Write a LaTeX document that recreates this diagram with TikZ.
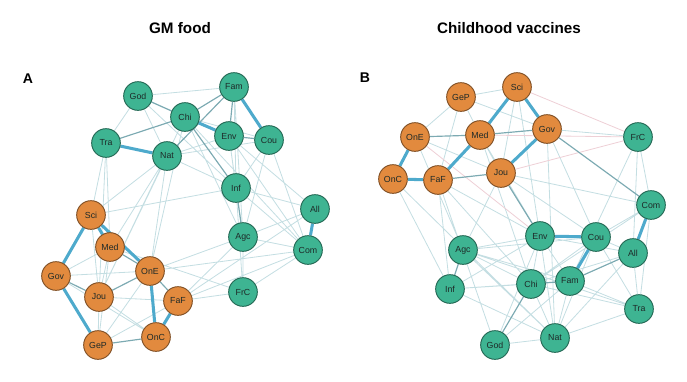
\documentclass[tikz,border=0pt]{standalone}
\usepackage{fontspec}
\setmainfont{Liberation Sans}
\usetikzlibrary{backgrounds}
\definecolor{tealfill}{RGB}{62,180,146}
\definecolor{tealline}{RGB}{36,104,84}
\definecolor{orgfill}{RGB}{226,138,62}
\definecolor{orgline}{RGB}{128,80,38}
\definecolor{wkcol}{RGB}{196,222,226}
\definecolor{mdcol}{RGB}{124,170,178}
\definecolor{stcol}{RGB}{78,170,204}
\definecolor{ngcol}{RGB}{238,208,214}
\definecolor{labcol}{RGB}{30,42,40}

\begin{document}
\begin{tikzpicture}[x=0.03cm, y=-0.03cm,
  vg/.style={circle, draw=tealline, fill=tealfill, line width=0.8pt, minimum size=0.86cm, inner sep=0pt, text=labcol, font=\fontsize{7.5}{8}\selectfont},
  vo/.style={vg, draw=orgline, fill=orgfill},
  wk/.style={draw=wkcol, line width=0.7pt},
  ng/.style={draw=ngcol, line width=0.7pt},
  md/.style={draw=mdcol, line width=1pt},
  st/.style={draw=stcol, line width=2.6pt},
  ttl/.style={font=\bfseries\fontsize{13}{15}\selectfont},
  pl/.style={font=\bfseries\fontsize{12}{14}\selectfont}
]
\useasboundingbox (0,0) rectangle (687,381);
% titles and panel letters
\node[ttl] (tA) at (180,28) {GM food};
\node[ttl] (tB) at (509,28) {Childhood vaccines};
\node[pl] (lA) at (28,79) {A};
\node[pl] (lB) at (365,78) {B};
% panel A nodes
\node[vg] (aGod) at (138,96)  {God};
\node[vg] (aFam) at (234,87)  {Fam};
\node[vg] (aChi) at (185,117) {Chi};
\node[vg] (aEnv) at (229,136) {Env};
\node[vg] (aCou) at (269,140) {Cou};
\node[vg] (aTra) at (106,143) {Tra};
\node[vg] (aNat) at (167,156) {Nat};
\node[vg] (aInf) at (236,188) {Inf};
\node[vg] (aAll) at (315,209) {All};
\node[vg] (aAgc) at (243,237) {Agc};
\node[vg] (aCom) at (308,250) {Com};
\node[vg] (aFrC) at (243,292) {FrC};
\node[vo] (aSci) at (91,215)  {Sci};
\node[vo] (aMed) at (110,247) {Med};
\node[vo] (aGov) at (56,276)  {Gov};
\node[vo] (aOnE) at (150,271) {OnE};
\node[vo] (aJou) at (99,297)  {Jou};
\node[vo] (aFaF) at (178,301) {FaF};
\node[vo] (aGeP) at (98,345)  {GeP};
\node[vo] (aOnC) at (156,337) {OnC};
% panel B nodes
\node[vo] (bSci) at (517,87)  {Sci};
\node[vo] (bGeP) at (461,97)  {GeP};
\node[vo] (bOnE) at (415,137) {OnE};
\node[vo] (bMed) at (480,135) {Med};
\node[vo] (bGov) at (547,129) {Gov};
\node[vo] (bOnC) at (393,179) {OnC};
\node[vo] (bFaF) at (438,180) {FaF};
\node[vo] (bJou) at (501,173) {Jou};
\node[vg] (bFrC) at (638,137) {FrC};
\node[vg] (bCom) at (651,205) {Com};
\node[vg] (bEnv) at (540,236) {Env};
\node[vg] (bCou) at (596,237) {Cou};
\node[vg] (bAgc) at (463,250) {Agc};
\node[vg] (bAll) at (633,253) {All};
\node[vg] (bChi) at (531,284) {Chi};
\node[vg] (bFam) at (570,281) {Fam};
\node[vg] (bInf) at (450,289) {Inf};
\node[vg] (bTra) at (639,309) {Tra};
\node[vg] (bNat) at (555,338) {Nat};
\node[vg] (bGod) at (495,345) {God};
\begin{pgfonlayer}{background}
% panel A, weak edges
\draw[wk] (aGod) -- (aFam) (aGod) -- (aTra) (aGod) -- (aNat) (aGod) -- (aEnv) (aGod) -- (aInf)
  (aTra) -- (aSci) (aTra) -- (aMed) (aTra) -- (aJou) (aNat) -- (aSci) (aNat) -- (aMed)
  (aNat) -- (aJou) (aNat) -- (aOnE) (aNat) -- (aInf) (aNat) -- (aEnv) (aNat) -- (aCou)
  (aChi) -- (aAgc) (aChi) -- (aCou) (aChi) -- (aCom) (aEnv) -- (aInf) (aEnv) -- (aAgc)
  (aEnv) -- (aAll) (aEnv) -- (aCom) (aFam) -- (aInf) (aFam) -- (aAgc) (aCou) -- (aAgc)
  (aCou) -- (aCom) (aCou) -- (aInf) (aInf) -- (aAll) (aInf) -- (aCom) (aInf) -- (aFrC)
  (aAgc) -- (aCom) (aAgc) -- (aAll) (aAgc) -- (aFrC) (aAgc) -- (aFaF) (aAgc) -- (aOnE)
  (aFrC) -- (aCom) (aFrC) -- (aFaF) (aAll) -- (aFaF) (aCom) -- (aFaF) (aCom) -- (aOnE)
  (aMed) -- (aFrC) (aSci) -- (aInf) (aGov) -- (aMed) (aGov) -- (aOnE) (aSci) -- (aJou)
  (aJou) -- (aFaF) (aJou) -- (aOnC) (aGeP) -- (aJou) (aGeP) -- (aOnE) (aGeP) -- (aFaF)
  (aMed) -- (aJou) (aMed) -- (aGeP) (aGov) -- (aOnC) (aChi) -- (aOnE) (aChi) -- (aJou);
% panel A, medium edges
\draw[md] (aChi) -- (aFam) (aChi) -- (aTra) (aNat) -- (aFam) (aGod) -- (aChi)
  (aFam) -- (aEnv) (aEnv) -- (aCou) (aChi) -- (aInf) (aInf) -- (aAgc)
  (aGov) -- (aJou) (aJou) -- (aOnE) (aGeP) -- (aOnC) (aOnE) -- (aFaF) (aMed) -- (aOnE);
% panel A, strong edges
\draw[st] (aFam) -- (aCou) (aChi) -- (aEnv) (aTra) -- (aNat) (aAll) -- (aCom)
  (aSci) -- (aGov) (aSci) -- (aMed) (aSci) -- (aOnE) (aGov) -- (aGeP)
  (aOnE) -- (aOnC) (aFaF) -- (aOnC);
% panel B, weak edges
\draw[wk] (bOnE) -- (bGeP) (bGeP) -- (bSci) (bGeP) -- (bGov) (bGeP) -- (bMed) (bGeP) -- (bFaF)
  (bOnE) -- (bJou) (bOnE) -- (bAgc) (bOnC) -- (bInf) (bFaF) -- (bInf) (bFaF) -- (bEnv)
  (bFaF) -- (bChi) (bMed) -- (bJou) (bMed) -- (bChi) (bSci) -- (bJou) (bSci) -- (bEnv)
  (bGov) -- (bFrC) (bGov) -- (bCou) (bJou) -- (bCom) (bJou) -- (bCou) (bJou) -- (bAgc)
  (bFrC) -- (bAll) (bFrC) -- (bCom) (bFrC) -- (bFam) (bAgc) -- (bEnv) (bAgc) -- (bCou)
  (bAgc) -- (bChi) (bAgc) -- (bFam) (bAgc) -- (bTra) (bAgc) -- (bNat) (bInf) -- (bChi)
  (bInf) -- (bFam) (bInf) -- (bEnv) (bInf) -- (bNat) (bEnv) -- (bChi) (bEnv) -- (bFam)
  (bEnv) -- (bAll) (bEnv) -- (bNat) (bEnv) -- (bGod) (bCou) -- (bAll) (bCou) -- (bCom)
  (bCou) -- (bChi) (bCou) -- (bTra) (bCou) -- (bNat) (bChi) -- (bAll) (bChi) -- (bNat)
  (bChi) -- (bTra) (bFam) -- (bTra) (bFam) -- (bNat) (bFam) -- (bGod) (bAll) -- (bTra)
  (bAll) -- (bNat) (bCom) -- (bTra) (bCom) -- (bChi) (bNat) -- (bGod) (bNat) -- (bTra)
  (bOnC) -- (bNat) (bFaF) -- (bGod) (bMed) -- (bEnv) (bGov) -- (bNat);
\draw[ng] (bJou) -- (bFrC) (bMed) -- (bFrC) (bSci) -- (bFrC) (bOnE) -- (bEnv);
% panel B, medium edges
\draw[md] (bOnE) -- (bMed) (bMed) -- (bGov) (bFaF) -- (bJou) (bChi) -- (bFam)
  (bAgc) -- (bInf) (bChi) -- (bGod) (bFam) -- (bAll) (bJou) -- (bEnv) (bGov) -- (bCom);
% panel B, strong edges
\draw[st] (bSci) -- (bGov) (bSci) -- (bMed) (bMed) -- (bFaF) (bGov) -- (bJou)
  (bOnE) -- (bOnC) (bOnC) -- (bFaF) (bEnv) -- (bCou) (bCou) -- (bFam) (bCom) -- (bAll);
\end{pgfonlayer}
\end{tikzpicture}
\end{document}
